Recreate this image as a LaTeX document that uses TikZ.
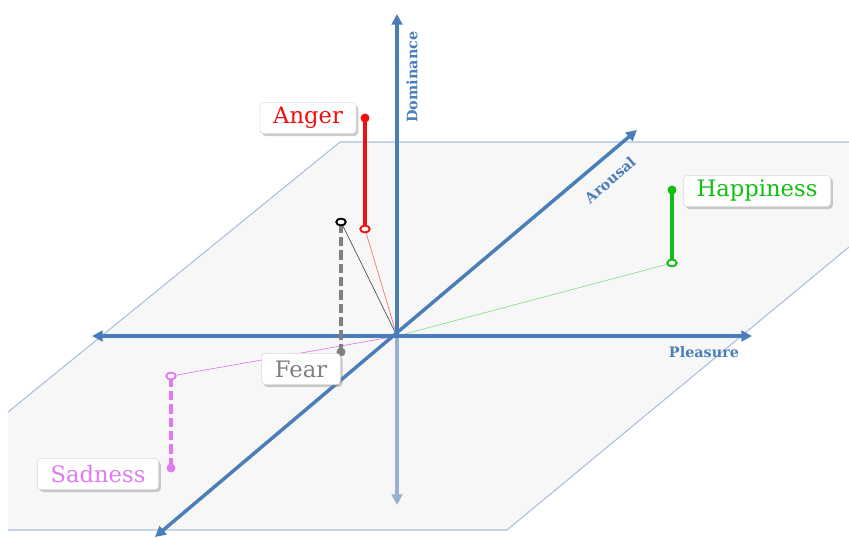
\documentclass[tikz,border=0pt]{standalone}
\usepackage{fontspec}
\setmainfont{DejaVu Serif}
\usetikzlibrary{arrows.meta,shadows,shapes.geometric}
\definecolor{axisblue}{HTML}{4A7EBB}
\definecolor{axisfade}{HTML}{95B1D6}
\definecolor{planefill}{HTML}{F7F7F7}
\definecolor{planeedge}{HTML}{A9C0DE}
\definecolor{angercol}{HTML}{F01010}
\definecolor{happycol}{HTML}{10C010}
\definecolor{fearcol}{HTML}{808080}
\definecolor{sadcol}{HTML}{E07AF0}
\begin{document}
\begin{tikzpicture}[x=0.75pt,y=-0.75pt,
  axis/.style={draw=axisblue,line width=2.6pt,{Triangle[length=8pt,width=8pt]}-{Triangle[length=8pt,width=8pt]}},
  axislab/.style={text=axisblue,font=\bfseries\fontsize{10.8}{12}\selectfont,inner sep=0pt},
  lab/.style={draw=black!15,line width=0.4pt,fill=white,rounded corners=3pt,
    drop shadow={opacity=0.4,shadow xshift=1.6pt,shadow yshift=-1.8pt},
    font=\fontsize{17}{17}\selectfont,inner xsep=10pt,minimum height=23.5pt},
  dot/.style={circle,inner sep=0pt,minimum size=6.5pt},
  ring/.style={ellipse,inner sep=0pt,minimum width=7pt,minimum height=5pt,line width=1.3pt,fill=white},
  stem/.style={line width=2.8pt,shorten <=-2pt,shorten >=-1pt},
  ray/.style={line width=0.5pt}]
\useasboundingbox (0,0) rectangle (849,537);
% plane
\fill[planefill] (340,142) -- (849,142) -- (849,247) -- (507,530) -- (8,530) -- (8,412) -- cycle;
\draw[planeedge,line width=0.8pt] (849,142) -- (340,142) -- (8,412);
\draw[planeedge,line width=0.8pt] (849,247) -- (507,530) -- (8,530);
% coordinates
\coordinate (O) at (397,336);
\coordinate (Dtop) at (397,14);
\coordinate (Dbot) at (397,505);
\coordinate (Pl) at (92,336);
\coordinate (Pr) at (752,336);
\coordinate (Af) at (637,130);
\coordinate (Ab) at (155,537);
% emotion points
\node[dot,fill=angercol] (aT) at (365,118) {};
\node[ring,draw=angercol] (aB) at (365,229) {};
\node[dot,fill=happycol] (hT) at (672,190) {};
\node[ring,draw=happycol] (hB) at (672,263) {};
\node[ring,draw=black] (fB) at (341,222) {};
\node[dot,fill=fearcol] (fT) at (341,352) {};
\node[ring,draw=sadcol] (sB) at (171,376) {};
\node[dot,fill=sadcol] (sT) at (171,468) {};
% rays to origin
\draw[ray,angercol!60] (aB) -- (O);
\draw[ray,happycol!50] (hB) -- (O);
\draw[ray,black!70] (fB) -- (O);
\draw[ray,sadcol] (sB) -- (O);
% axes
\draw[draw=axisfade,line width=2.6pt,-{Triangle[length=8pt,width=8pt]}] (O) -- (Dbot);
\draw[draw=axisblue,line width=2.6pt,-{Triangle[length=8pt,width=8pt]}] (O) -- (Dtop);
\draw[axis] (Pl) -- (Pr);
\draw[axis] (Ab) -- (Af);
\node[axislab,rotate=90] (dlab) at (412,77) {Dominance};
\node[axislab] (plab) at (704,352) {Pleasure};
\node[axislab,rotate=41] (alab) at (610,180) {Arousal};
% stems
\draw[stem,angercol] (aT) -- (aB);
\draw[stem,happycol] (hT) -- (hB);
\draw[stem,fearcol,dash pattern=on 7pt off 3pt] (fB) -- (fT);
\draw[stem,sadcol,line width=2.4pt,dash pattern=on 7pt off 3pt] (sB) -- (sT);
\node[dot,fill=angercol] at (aT) {};
\node[dot,fill=happycol] at (hT) {};
\node[dot,fill=fearcol] at (fT) {};
\node[dot,fill=sadcol] at (sT) {};
\node[ring,draw=angercol] at (aB) {};
\node[ring,draw=happycol] at (hB) {};
\node[ring,draw=black] at (fB) {};
\node[ring,draw=sadcol] at (sB) {};
% labels
\node[lab,text=angercol] (alabel) at (308,118) {Anger};
\node[lab,text=happycol] (hlabel) at (757,191) {Happiness};
\node[lab,text=fearcol] (flabel) at (301,369) {Fear};
\node[lab,text=sadcol] (slabel) at (98,474) {Sadness};
\end{tikzpicture}
\end{document}
